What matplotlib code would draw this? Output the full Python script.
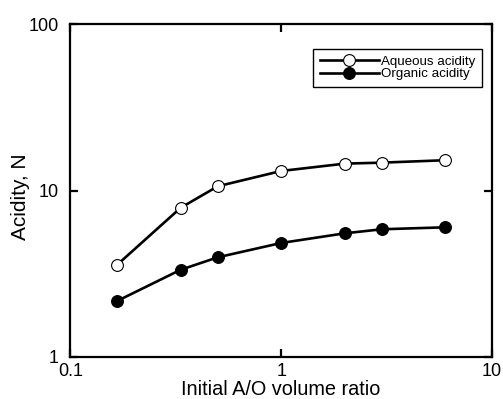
import matplotlib
matplotlib.use('Agg')
import matplotlib.pyplot as plt
from matplotlib.ticker import FixedLocator, FixedFormatter, NullLocator

# Data
ratio = [1/6, 1/3, 1/2, 1, 2, 3, 6]
aqueous = [3.58, 7.87, 10.6, 13.1, 14.5, 14.7, 15.2]
organic = [2.17, 3.34, 3.97, 4.84, 5.53, 5.85, 6.01]

x_ticks = [0.1, 1, 10]
x_labels = ['0.1', '1', '10']
y_ticks = [1, 10, 100]
y_labels = ['1', '10', '100']

plt.rcParams['font.family'] = ['Liberation Sans', 'DejaVu Sans']

fig = plt.figure(figsize=(5.03, 3.99), dpi=100)
ax = fig.add_axes([0.140, 0.1053, 0.838, 0.8345])

ax.plot(ratio, aqueous, '-o', color='black', lw=1.9, ms=8.5,
        mfc='white', mec='black', mew=0.8, label='Aqueous acidity')
ax.plot(ratio, organic, '-o', color='black', lw=1.9, ms=8.5,
        mfc='black', mec='black', mew=0.8, label='Organic acidity')

ax.set_xscale('log')
ax.set_yscale('log')
ax.set_xlim(0.1, 10)
ax.set_ylim(1, 100)

ax.xaxis.set_major_locator(FixedLocator(x_ticks))
ax.xaxis.set_major_formatter(FixedFormatter(x_labels))
ax.xaxis.set_minor_locator(NullLocator())
ax.yaxis.set_major_locator(FixedLocator(y_ticks))
ax.yaxis.set_major_formatter(FixedFormatter(y_labels))
ax.yaxis.set_minor_locator(NullLocator())

ax.tick_params(which='major', direction='in', length=6, width=1.6,
               top=True, right=True, labelsize=13)
ax.tick_params(axis='x', pad=4)
ax.tick_params(axis='y', pad=8.5)
for s in ax.spines.values():
    s.set_linewidth(1.6)

ax.set_xlabel('Initial A/O volume ratio', fontsize=14.3)
ax.xaxis.set_label_coords(0.5, -0.068)
ax.set_ylabel('Acidity, N', fontsize=15)
ax.yaxis.set_label_coords(-0.095, 0.482)

leg = ax.legend(loc='upper right', bbox_to_anchor=(0.976, 0.925),
                borderaxespad=0, fontsize=9.6, handlelength=4.4,
                labelspacing=0.0, handletextpad=0.15, borderpad=0.5,
                fancybox=False, edgecolor='black', framealpha=1)
leg.get_frame().set_linewidth(1.0)

fig.savefig('out.png', dpi=100)
